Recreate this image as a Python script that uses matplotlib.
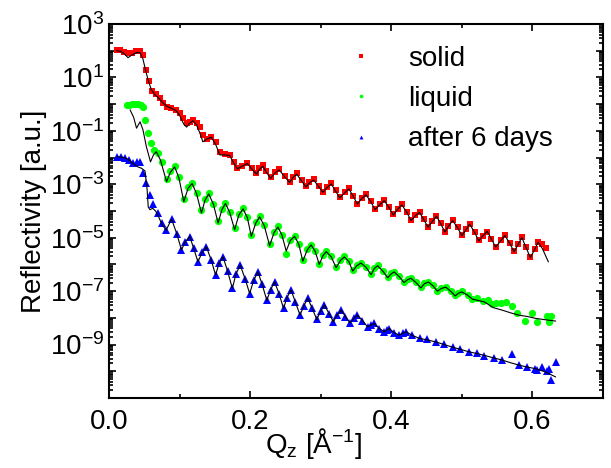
import numpy as np
import matplotlib
matplotlib.use('Agg')
import matplotlib.pyplot as plt
from matplotlib.ticker import LogLocator, FuncFormatter, MultipleLocator, NullFormatter

plt.rcParams['font.family'] = ['Liberation Sans', 'DejaVu Sans']
plt.rcParams['mathtext.fontset'] = 'custom'
plt.rcParams['mathtext.rm'] = 'Liberation Sans'
plt.rcParams['mathtext.it'] = 'Liberation Sans:italic'

#######################################################################
# Data (Qz in 1/A, reflectivity as log10)
#######################################################################
solid_q = [0.011, 0.016, 0.021, 0.027, 0.032, 0.038, 0.044, 0.048, 0.053, 0.057,
           0.061, 0.066, 0.072, 0.077, 0.082, 0.088, 0.095, 0.100, 0.105, 0.110,
           0.115, 0.119, 0.124, 0.129, 0.133, 0.139, 0.145, 0.151, 0.157, 0.164,
           0.171, 0.177, 0.182, 0.189, 0.196, 0.203, 0.209, 0.213, 0.218, 0.223,
           0.229, 0.235, 0.241, 0.249, 0.256, 0.261, 0.266, 0.273, 0.279, 0.284,
           0.290, 0.297, 0.303, 0.309, 0.315, 0.321, 0.327, 0.334, 0.340, 0.346,
           0.352, 0.358, 0.364, 0.371, 0.377, 0.384, 0.390, 0.397, 0.403, 0.409,
           0.415, 0.422, 0.428, 0.434, 0.440, 0.446, 0.452, 0.458, 0.464, 0.470,
           0.476, 0.481, 0.487, 0.494, 0.500, 0.506, 0.511, 0.518, 0.524, 0.530,
           0.536, 0.542, 0.548, 0.555, 0.561, 0.568, 0.574, 0.580, 0.585, 0.591,
           0.597, 0.603, 0.608, 0.614, 0.619]
solid_log = [2.03, 2.02, 1.97, 1.90, 1.93, 1.98, 1.99, 1.85, 1.28, 0.85,
             0.50, 0.38, 0.22, 0.05, -0.10, -0.15, -0.22, -0.35, -0.50, -0.72,
             -0.66, -0.60, -0.70, -0.86, -1.16, -1.30, -1.22, -1.42, -1.80, -1.88,
             -1.90, -2.15, -2.40, -2.30, -2.20, -2.40, -2.58, -2.40, -2.28, -2.50,
             -2.74, -2.55, -2.44, -2.68, -2.90, -2.72, -2.59, -2.85, -3.07, -2.93,
             -2.82, -3.05, -3.28, -3.10, -2.97, -3.22, -3.49, -3.30, -3.15, -3.42,
             -3.72, -3.52, -3.37, -3.62, -3.93, -3.74, -3.59, -3.86, -4.13, -3.92,
             -3.75, -4.02, -4.34, -4.16, -4.03, -4.30, -4.59, -4.38, -4.17, -4.45,
             -4.77, -4.55, -4.34, -4.60, -4.90, -4.68, -4.47, -4.78, -5.10, -4.93,
             -4.78, -5.05, -5.33, -5.10, -4.90, -5.20, -5.50, -5.22, -4.97, -5.35,
             -5.72, -5.43, -5.15, -5.25, -5.40]

solid_fit_q = [0.011, 0.016, 0.021, 0.027, 0.033, 0.039, 0.044, 0.048, 0.052, 0.056,
               0.060, 0.065, 0.070, 0.076, 0.082, 0.088, 0.095, 0.100, 0.106, 0.110,
               0.114, 0.119, 0.124, 0.129, 0.133, 0.139, 0.145, 0.151, 0.157, 0.164,
               0.171, 0.177, 0.182, 0.189, 0.196, 0.203, 0.209, 0.213, 0.218, 0.223,
               0.229, 0.235, 0.241, 0.249, 0.256, 0.261, 0.266, 0.273, 0.279, 0.284,
               0.290, 0.297, 0.303, 0.309, 0.315, 0.321, 0.327, 0.334, 0.340, 0.346,
               0.352, 0.358, 0.364, 0.371, 0.377, 0.384, 0.390, 0.397, 0.403, 0.409,
               0.415, 0.422, 0.428, 0.434, 0.440, 0.446, 0.452, 0.458, 0.464, 0.470,
               0.476, 0.481, 0.487, 0.494, 0.500, 0.506, 0.511, 0.518, 0.524, 0.530,
               0.536, 0.542, 0.548, 0.555, 0.561, 0.568, 0.574, 0.580, 0.585, 0.591,
               0.597, 0.603, 0.608, 0.614, 0.6225]
solid_fit_log = [2.00, 1.98, 1.90, 1.74, 1.85, 1.93, 1.93, 1.70, 1.25, 0.85,
                 0.55, 0.35, 0.24, 0.06, -0.08, -0.15, -0.24, -0.42, -0.75, -0.86,
                 -0.72, -0.62, -0.78, -1.10, -1.41, -1.30, -1.24, -1.50, -1.90, -1.90,
                 -1.92, -2.22, -2.42, -2.32, -2.22, -2.45, -2.62, -2.45, -2.32, -2.55,
                 -2.78, -2.58, -2.46, -2.72, -2.93, -2.74, -2.62, -2.88, -3.10, -2.95,
                 -2.84, -3.08, -3.30, -3.12, -2.99, -3.25, -3.51, -3.32, -3.17, -3.45,
                 -3.74, -3.54, -3.39, -3.65, -3.95, -3.76, -3.61, -3.88, -4.15, -3.94,
                 -3.77, -4.05, -4.36, -4.18, -4.05, -4.32, -4.61, -4.40, -4.19, -4.47,
                 -4.79, -4.57, -4.36, -4.63, -4.92, -4.70, -4.49, -4.80, -5.12, -4.92,
                 -4.76, -5.06, -5.35, -5.12, -4.92, -5.22, -5.52, -5.24, -4.99, -5.37,
                 -5.74, -5.45, -5.17, -5.40, -5.90]

liquid_q = [0.025, 0.029, 0.033, 0.037, 0.041, 0.045, 0.048, 0.051, 0.0556, 0.060,
            0.064, 0.0697, 0.075, 0.0815, 0.087, 0.0933, 0.099, 0.106, 0.112, 0.1178,
            0.124, 0.131, 0.136, 0.1413, 0.148, 0.1546, 0.160, 0.165, 0.171, 0.178,
            0.184, 0.190, 0.196, 0.2017, 0.208, 0.2134, 0.220, 0.2276, 0.234, 0.2393,
            0.245, 0.2511, 0.257, 0.263, 0.269, 0.2746, 0.281, 0.2864, 0.292, 0.298,
            0.303, 0.3077, 0.315, 0.3218, 0.328, 0.3336, 0.340, 0.3453, 0.351, 0.357,
            0.364, 0.3713, 0.376, 0.3806, 0.388, 0.395, 0.400, 0.404, 0.411, 0.418,
            0.423, 0.428, 0.435, 0.442, 0.447, 0.4527, 0.459, 0.4654, 0.471, 0.4772,
            0.484, 0.4905, 0.495, 0.500, 0.508, 0.515, 0.522, 0.530, 0.537, 0.543,
            0.548, 0.556, 0.563, 0.571, 0.578, 0.589, 0.599, 0.607, 0.620, 0.623,
            0.627]
liquid_log = [-0.03, -0.02, 0.00, 0.00, -0.01, -0.03, -0.12, -0.60, -1.08, -1.46,
              -1.72, -1.83, -2.15, -2.80, -2.50, -2.33, -2.72, -3.55, -3.10, -2.96,
              -3.32, -3.95, -3.55, -3.33, -3.72, -4.38, -3.92, -3.70, -4.02, -4.62,
              -4.12, -3.90, -4.22, -4.88, -4.42, -4.20, -4.52, -5.22, -4.78, -4.58,
              -4.88, -5.60, -5.08, -4.95, -5.22, -5.82, -5.42, -5.26, -5.48, -5.98,
              -5.66, -5.51, -5.70, -6.10, -5.83, -5.70, -5.88, -6.22, -6.03, -5.93,
              -6.08, -6.35, -6.13, -6.03, -6.23, -6.48, -6.33, -6.27, -6.43, -6.66,
              -6.55, -6.50, -6.66, -6.86, -6.70, -6.64, -6.78, -6.98, -6.88, -6.83,
              -6.98, -7.15, -7.06, -7.00, -7.13, -7.28, -7.25, -7.38, -7.35, -7.48,
              -7.45, -7.45, -7.42, -7.55, -7.80, -8.11, -7.80, -8.15, -7.93, -8.15,
              -7.93]

liquid_fit_q = [0.030, 0.035, 0.039, 0.044, 0.048, 0.053, 0.0588, 0.063, 0.067, 0.073,
                0.0815, 0.087, 0.093, 0.099, 0.106, 0.112, 0.1178, 0.124, 0.131, 0.136,
                0.1413, 0.148, 0.1546, 0.160, 0.165, 0.171, 0.178, 0.184, 0.190, 0.196,
                0.2017, 0.208, 0.2134, 0.220, 0.2276, 0.234, 0.2393, 0.245, 0.2511, 0.257,
                0.263, 0.269, 0.2746, 0.281, 0.2864, 0.292, 0.298, 0.303, 0.3077, 0.315,
                0.3218, 0.328, 0.3336, 0.340, 0.3453, 0.351, 0.357, 0.364, 0.3713, 0.376,
                0.3806, 0.388, 0.395, 0.400, 0.404, 0.411, 0.418, 0.423, 0.428, 0.435,
                0.442, 0.447, 0.4527, 0.459, 0.4654, 0.471, 0.4772, 0.484, 0.4905, 0.495,
                0.500, 0.508, 0.515, 0.5315, 0.545, 0.557, 0.570, 0.581, 0.593, 0.6045,
                0.618, 0.6327]
liquid_fit_log = [-0.22, -0.50, -0.90, -0.66, -0.95, -1.60, -2.16, -1.90, -1.78, -2.10,
                  -2.90, -2.55, -2.35, -2.75, -3.65, -3.15, -2.97, -3.35, -4.07, -3.60,
                  -3.36, -3.75, -4.45, -3.95, -3.72, -4.05, -4.70, -4.15, -3.92, -4.25,
                  -4.95, -4.45, -4.22, -4.55, -5.30, -4.80, -4.60, -4.90, -5.50, -5.10,
                  -4.95, -5.25, -5.88, -5.45, -5.27, -5.50, -6.00, -5.68, -5.52, -5.72,
                  -6.12, -5.85, -5.72, -5.90, -6.25, -6.05, -5.95, -6.10, -6.38, -6.15,
                  -6.05, -6.25, -6.50, -6.35, -6.28, -6.45, -6.68, -6.57, -6.52, -6.68,
                  -6.88, -6.72, -6.66, -6.80, -7.00, -6.90, -6.85, -7.00, -7.18, -7.08,
                  -7.03, -7.15, -7.30, -7.40, -7.62, -7.71, -7.82, -7.90, -7.95, -8.02,
                  -8.07, -8.12]

aged_q = [0.012, 0.017, 0.0226, 0.028, 0.0344, 0.039, 0.044, 0.0485, 0.053, 0.058,
          0.0626, 0.070, 0.075, 0.081, 0.0886, 0.096, 0.1027, 0.108, 0.1145, 0.120,
          0.126, 0.132, 0.138, 0.145, 0.151, 0.156, 0.1616, 0.168, 0.1748, 0.180,
          0.186, 0.193, 0.1993, 0.205, 0.211, 0.217, 0.2236, 0.229, 0.2346, 0.241,
          0.2473, 0.252, 0.258, 0.264, 0.2707, 0.276, 0.2817, 0.288, 0.2944, 0.300,
          0.3053, 0.312, 0.318, 0.323, 0.329, 0.335, 0.3415, 0.347, 0.352, 0.359,
          0.3665, 0.371, 0.376, 0.383, 0.390, 0.394, 0.397, 0.404, 0.411, 0.416,
          0.421, 0.430, 0.440, 0.450, 0.463, 0.475, 0.487, 0.498, 0.510, 0.522,
          0.5315, 0.545, 0.557, 0.5715, 0.581, 0.592, 0.604, 0.607, 0.614, 0.620,
          0.6233, 0.627, 0.6327]
aged_log = [-1.97, -1.98, -2.00, -2.10, -2.20, -2.18, -2.16, -2.59, -2.97, -3.40,
            -3.72, -4.09, -4.45, -4.70, -4.30, -4.85, -5.46, -5.15, -4.96, -5.40,
            -5.90, -5.55, -5.34, -5.85, -6.40, -5.95, -5.72, -6.25, -6.90, -6.35,
            -6.03, -6.55, -7.09, -6.60, -6.28, -6.75, -7.34, -6.95, -6.65, -7.10,
            -7.65, -7.25, -6.96, -7.40, -7.90, -7.55, -7.27, -7.65, -8.06, -7.75,
            -7.52, -7.85, -8.15, -7.90, -7.71, -7.95, -8.19, -8.02, -7.90, -8.10,
            -8.34, -8.27, -8.21, -8.40, -8.52, -8.45, -8.40, -8.55, -8.65, -8.58,
            -8.52, -8.66, -8.77, -8.78, -8.90, -8.98, -9.10, -9.17, -9.27, -9.32,
            -9.44, -9.50, -9.58, -9.37, -9.77, -9.83, -9.90, -9.95, -9.83, -10.00,
            -9.90, -10.33, -9.64]

aged_fit_q = [0.012, 0.020, 0.027, 0.034, 0.041, 0.046, 0.051, 0.054, 0.0556, 0.058,
              0.062, 0.066, 0.070, 0.075, 0.081, 0.0886, 0.096, 0.1027, 0.108, 0.1145,
              0.120, 0.126, 0.132, 0.138, 0.145, 0.151, 0.156, 0.1616, 0.168, 0.1748,
              0.180, 0.186, 0.193, 0.1993, 0.205, 0.211, 0.217, 0.2236, 0.229, 0.2346,
              0.241, 0.2473, 0.252, 0.258, 0.264, 0.2707, 0.276, 0.2817, 0.288, 0.2944,
              0.300, 0.3053, 0.312, 0.318, 0.323, 0.329, 0.335, 0.3415, 0.347, 0.352,
              0.359, 0.3665, 0.371, 0.376, 0.383, 0.390, 0.394, 0.397, 0.404, 0.411,
              0.416, 0.421, 0.430, 0.440, 0.450, 0.463, 0.475, 0.487, 0.498, 0.510,
              0.522, 0.534, 0.545, 0.557, 0.569, 0.581, 0.592, 0.604, 0.618, 0.6327]
aged_fit_log = [-1.97, -1.99, -2.06, -2.22, -2.35, -2.40, -2.50, -3.20, -3.85, -3.95,
                -3.90, -4.00, -4.20, -4.50, -4.72, -4.30, -4.85, -5.46, -5.15, -4.96,
                -5.40, -5.90, -5.55, -5.34, -5.85, -6.40, -5.95, -5.72, -6.25, -6.90,
                -6.35, -6.03, -6.55, -7.09, -6.60, -6.28, -6.75, -7.34, -6.95, -6.65,
                -7.10, -7.65, -7.25, -6.96, -7.40, -7.90, -7.55, -7.27, -7.65, -8.06,
                -7.75, -7.52, -7.85, -8.15, -7.90, -7.71, -7.95, -8.19, -8.02, -7.90,
                -8.10, -8.34, -8.27, -8.21, -8.40, -8.52, -8.45, -8.40, -8.55, -8.65,
                -8.58, -8.52, -8.66, -8.77, -8.82, -8.90, -9.00, -9.10, -9.18, -9.27,
                -9.34, -9.42, -9.50, -9.58, -9.68, -9.77, -9.84, -9.90, -10.02, -10.21]

labels = ['solid', 'liquid', 'after 6 days']

#######################################################################
# Plot
#######################################################################
fig = plt.figure(figsize=(6.11, 4.68), dpi=100)
ax = fig.add_axes([0.1784, 0.1496, 0.8085, 0.7991])

def R(v):
    return np.power(10.0, np.asarray(v))

ax.plot(solid_q, R(solid_log), 's', color='#ff0000', ms=4.6, mew=0, label=labels[0])
ax.plot(liquid_q, R(liquid_log), 'o', color='#00ff00', ms=5.2, mew=0, label=labels[1])
ax.plot(aged_q, R(aged_log), '^', color='#0000ff', ms=5.6, mew=0, label=labels[2])

ax.plot(solid_fit_q, R(solid_fit_log), '-', color='black', lw=0.8)
ax.plot(liquid_fit_q, R(liquid_fit_log), '-', color='black', lw=0.8)
ax.plot(aged_fit_q, R(aged_fit_log), '-', color='black', lw=0.8)

ax.set_yscale('log')
ax.set_xlim(0.0, 0.7)
ax.set_ylim(1e-11, 1e3)

# ticks
ax.xaxis.set_major_locator(MultipleLocator(0.2))
ax.xaxis.set_minor_locator(MultipleLocator(0.1))
ax.xaxis.set_major_formatter(FuncFormatter(lambda v, p: '%.1f' % v))
ax.set_yticks([10.0 ** k for k in range(-11, 4)])
ax.yaxis.set_minor_locator(LogLocator(base=10, subs=np.arange(2, 10), numticks=30))
ax.yaxis.set_minor_formatter(NullFormatter())

def ylab(v, p):
    k = int(round(np.log10(v)))
    if k % 2 == 0 or k < -9:
        return ''
    return r'$\mathregular{10^{%d}}$' % k
ax.yaxis.set_major_formatter(FuncFormatter(ylab))

ax.tick_params(which='both', direction='in', top=True, right=True, width=1.2,
               labelsize=20, colors='black')
ax.tick_params(which='major', length=5)
ax.tick_params(which='minor', length=3)
ax.tick_params(axis='x', which='major', pad=8)
for sp in ax.spines.values():
    sp.set_linewidth(1.5)

ax.set_xlabel(r'Q$_\mathregular{z}$ [Å$^\mathregular{-1}$]', fontsize=20)
ax.xaxis.set_label_coords(0.415, -0.075)
ax.set_ylabel('Reflectivity [a.u.]', fontsize=20, labelpad=2)

ax.legend(loc='upper left', bbox_to_anchor=(0.42, 1.008), frameon=False, fontsize=20,
          markerscale=0.5, handlelength=1.4, handletextpad=1.0, labelspacing=0.51,
          numpoints=1)

fig.savefig('out.png', dpi=100)
